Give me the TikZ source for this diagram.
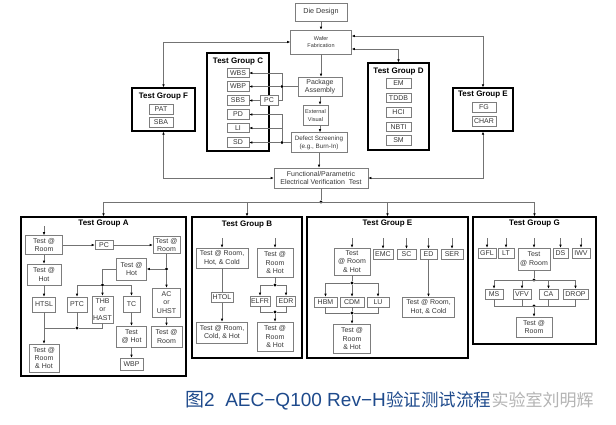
\documentclass[tikz,border=0pt]{standalone}
\usepackage{fontspec}
\setmainfont{Liberation Sans}
\newfontfamily\cjk{Noto Sans CJK SC}
\usetikzlibrary{arrows.meta}
\definecolor{boxgray}{RGB}{125,125,125}
\definecolor{linegray}{RGB}{115,115,115}
\definecolor{txtgray}{RGB}{55,55,55}
\definecolor{capblue}{RGB}{30,74,140}
\definecolor{wmgray}{RGB}{180,180,180}
\begin{document}
\begin{tikzpicture}[x=1pt,y=-1pt,
  bx/.style={draw=boxgray,line width=0.6pt,fill=white,inner sep=0pt,align=center,
     text=txtgray,font=\fontsize{7}{8.3}\selectfont},
  wh/.style 2 args={minimum width=#1pt,minimum height=#2pt},
  grp/.style={draw=black,line width=1.3pt,inner sep=0pt},
  ttl/.style={inner sep=0pt,font=\bfseries\fontsize{8}{9}\selectfont},
  ln/.style={draw=linegray,line width=0.6pt},
  arr/.style={ln,-{Latex[length=3pt,width=2.6pt,color=black]}},
  darr/.style={ln,{Latex[length=3pt,width=2.6pt,color=black]}-{Latex[length=3pt,width=2.6pt,color=black]}},
  jdot/.style={circle,fill=black,inner sep=0pt,minimum size=3.2pt}]
\fill[white] (0,0) rectangle (616,424);
\useasboundingbox (0,0) rectangle (616,424);

% ---------- top flow ----------
\node[bx,wh={52}{18},font=\fontsize{7.2}{8.5}\selectfont] (die) at (321,12) {Die Design};
\node[bx,wh={61}{24},font=\fontsize{5.5}{7.5}\selectfont] (wafer) at (321,42) {Wafer\\Fabrication};
\node[bx,wh={44}{19}] (pkg) at (320,86.5) {Package\\Assembly};
\node[bx,wh={25}{20},font=\fontsize{5.6}{8}\selectfont] (ext) at (315.5,115) {External\\Visual};
\node[bx,wh={56}{20},font=\fontsize{6.3}{8}\selectfont] (defect) at (319,142.5) {Defect Screening\\(e.g., Burn-In)};
\node[bx,wh={94}{20},font=\fontsize{7}{8.5}\selectfont] (func) at (321,178) {Functional/Parametric\\Electrical Verification\ \ Test};

% ---------- Test Group F ----------
\node[grp,wh={63}{43}] (grpF) at (163.5,109.5) {};
\node[ttl] (tF) at (163.5,97) {Test Group F};
\node[bx,wh={24}{9.5}] (PAT) at (161,109.5) {PAT};
\node[bx,wh={24}{10}] (SBA) at (161,122) {SBA};

% ---------- Test Group C ----------
\node[grp,wh={62}{98}] (grpC) at (238,102) {};
\node[ttl] (tC) at (238,62) {Test Group C};
\node[bx,wh={22}{9.5}] (WBS) at (238,73) {WBS};
\node[bx,wh={22}{9.5}] (WBP) at (238,86.5) {WBP};
\node[bx,wh={22}{9.5}] (SBS) at (238,100.5) {SBS};
\node[bx,wh={22}{9.5}] (PD) at (238,114.5) {PD};
\node[bx,wh={22}{9.5}] (LI) at (238,128) {LI};
\node[bx,wh={22}{9.5}] (SD) at (238,142.5) {SD};
\node[bx,wh={18}{9.5}] (PC) at (269,100.5) {PC};

% ---------- Test Group D ----------
\node[grp,wh={61}{87}] (grpD) at (398.5,106.5) {};
\node[ttl] (tD) at (398.5,72) {Test Group D};
\node[bx,wh={25}{9.5}] (EM) at (398.5,83.5) {EM};
\node[bx,wh={25}{9.5}] (TDDB) at (398.5,98) {TDDB};
\node[bx,wh={25}{9.5}] (HCI) at (398.5,112.5) {HCI};
\node[bx,wh={25}{9.5}] (NBTI) at (398.5,127) {NBTI};
\node[bx,wh={25}{9.5}] (SM) at (398.5,140.5) {SM};

% ---------- Test Group E (top) ----------
\node[grp,wh={60}{43}] (grpEt) at (483,109.5) {};
\node[ttl] (tEt) at (483,94.5) {Test Group E};
\node[bx,wh={24}{10}] (FG) at (484,107) {FG};
\node[bx,wh={24}{10}] (CHAR) at (484,121) {CHAR};

% ---------- top connectors ----------
\draw[arr] (die) -- (wafer);
\draw[darr] (grpF.north) |- (wafer.west);
\draw[darr] ([yshift=6pt]wafer.east) -| (grpEt.north);
\draw[darr] ([yshift=-7pt]wafer.east) -| (grpD.north);
\draw[arr] (wafer.south) -- (wafer.south |- pkg.north);
\draw[arr] (pkg.south) -- (pkg.south |- ext.north);
\draw[arr] (pkg.south |- ext.south) -- (pkg.south |- defect.north);
\draw[arr] (defect.south) -- (defect.south |- func.north);
\draw[darr] (grpF.south) |- (func.west);
\draw[darr] (grpEt.south) |- (func.east);

\node[jdot] (c1) at (282,86.5) {};
\draw[ln] (pkg.west) -- (c1);
\draw[arr] (c1) -- (WBP.east);
\draw[arr] (c1) |- (WBS.east);
\draw[ln] (c1) |- (PC.east);
\draw[arr] (PC.west) -- (SBS.east);
\node[jdot] (c2) at (282,142.5) {};
\draw[ln] (defect.west) -- (c2);
\draw[arr] (c2) -- (SD.east);
\draw[arr] (c2) |- (PD.east);
\draw[arr] (c2 |- LI.east) -- (LI.east);

% ---------- bottom groups ----------
\node[grp,wh={165}{159}] (grpA) at (103.5,296.5) {};
\node[grp,wh={110}{141}] (grpB) at (247,287.5) {};
\node[grp,wh={161}{141}] (grpEb) at (387.5,287.5) {};
\node[grp,wh={123}{127}] (grpG) at (534.5,280.5) {};
\node[ttl] (tA) at (103.5,224) {Test Group A};
\node[ttl] (tB) at (247,224.5) {Test Group B};
\node[ttl] (tEb) at (387.5,223.5) {Test Group E};
\node[ttl] (tG) at (534.5,224) {Test Group G};

\node[jdot] (m) at (321,202) {};
\draw[ln] (func.south) -- (m);
\draw[ln] (grpA.north |- m) -- (grpG.north |- m);
\draw[arr] (grpA.north |- m) -- (grpA.north);
\draw[arr] (grpB.north |- m) -- (grpB.north);
\draw[arr] (grpEb.north |- m) -- (grpEb.north);
\draw[arr] (grpG.north |- m) -- (grpG.north);

% ---------- Group A ----------
\node[bx,wh={37}{19}] (a1) at (44,245) {Test @\\Room};
\node[bx,wh={18}{8.5}] (aPC) at (104,245) {PC};
\node[bx,wh={27}{17}] (a2) at (166.5,245) {Test @\\Room};
\node[bx,wh={34}{21}] (a3) at (44,274.5) {Test @\\Hot};
\node[bx,wh={30}{22}] (a4) at (131.5,269) {Test @\\Hot};
\node[bx,wh={28}{29}] (ac) at (166.5,302.5) {AC\\or\\UHST};
\node[bx,wh={31}{21}] (a5) at (166.5,336.5) {Test @\\Room};
\node[bx,wh={23}{15}] (htsl) at (44,304.5) {HTSL};
\node[bx,wh={20}{15}] (ptc) at (77,304.5) {PTC};
\node[bx,wh={21}{27}] (thb) at (102.5,309.5) {THB\\or\\HAST};
\node[bx,wh={17}{16}] (tc) at (131.5,304) {TC};
\node[bx,wh={30}{21}] (a6) at (131.5,336.5) {Test\\@ Hot};
\node[bx,wh={23}{12}] (wbpA) at (131.5,364) {WBP};
\node[bx,wh={30}{28}] (a7) at (44,358) {Test @\\Room\\\& Hot};
\coordinate (a1in) at (44,226);
\draw[arr] (a1in) -- (a1.north);
\draw[arr] (a1.east) -- (aPC.west);
\draw[arr] (aPC.east) -- (a2.west);
\draw[arr] (a1) -- (a3);
\draw[arr] (a3) -- (htsl);
\node[jdot] (dA1) at (166.5,269) {};
\draw[ln] (a2) -- (dA1);
\draw[arr] (dA1) -- (a4.east);
\draw[arr] (dA1) -- (ac);
\draw[arr] (ac) -- (a5);
\node[jdot] (dA2) at (102.5,285) {};
\draw[ln] (a4.west) -| (dA2);
\draw[arr] (dA2) -| (ptc.north);
\draw[arr] (dA2) -- (thb.north);
\draw[arr] (dA2) -| (tc.north);
\draw[arr] (tc) -- (a6);
\draw[arr] (a6) -- (wbpA);
\node[jdot] (dA3) at (77,328) {};
\draw[ln] (ptc.south) -- (dA3);
\draw[ln] (thb.south) |- (dA3);
\draw[ln] (dA3) -- (htsl.south |- dA3);
\draw[arr] (htsl) -- (a7);

% ---------- Group B ----------
\node[bx,wh={52}{20}] (b1) at (222,258) {Test @ Room,\\Hot, \& Cold};
\node[bx,wh={36}{29}] (b2) at (275,262.5) {Test @\\Room\\\& Hot};
\node[bx,wh={22}{9.5}] (htol) at (222,297.5) {HTOL};
\node[bx,wh={51}{21}] (b3) at (222,332.5) {Test @ Room,\\Cold, \& Hot};
\node[bx,wh={20}{10}] (elfr) at (260,301) {ELFR};
\node[bx,wh={19}{10}] (edr) at (286,301) {EDR};
\node[bx,wh={36}{29}] (b4) at (275,336.5) {Test @\\Room\\\& Hot};
\coordinate (b1in) at (222,238);
\coordinate (b2in) at (275,238);
\draw[arr] (b1in) -- (b1.north);
\draw[arr] (b2in) -- (b2.north);
\draw[ln] (b1) -- (htol);
\draw[arr] (htol) -- (b3);
\node[jdot] (dB1) at (275,285) {};
\node[jdot] (dB2) at (275,312) {};
\draw[ln] (b2) -- (dB1);
\draw[arr] (dB1) -| (elfr.north);
\draw[arr] (dB1) -| (edr.north);
\draw[ln] (elfr.south) |- (dB2);
\draw[ln] (edr.south) |- (dB2);
\draw[arr] (dB2) -- (b4);

% ---------- Group E (bottom) ----------
\node[bx,wh={36}{27}] (e1) at (352,261.5) {Test\\@ Room\\\& Hot};
\node[bx,wh={20}{10}] (emc) at (383,254) {EMC};
\node[bx,wh={19}{10}] (sc) at (406.5,254) {SC};
\node[bx,wh={17}{10}] (ed) at (428.5,254) {ED};
\node[bx,wh={22}{10}] (ser) at (452,254) {SER};
\node[bx,wh={23}{10}] (hbm) at (325.5,302) {HBM};
\node[bx,wh={24}{10}] (cdm) at (352,302) {CDM};
\node[bx,wh={22}{10}] (lu) at (378,302) {LU};
\node[bx,wh={37}{29}] (e2) at (352,338.5) {Test @\\Room\\\& Hot};
\node[bx,wh={52}{20}] (e3) at (428.5,307) {Test @ Room,\\Hot, \& Cold};
\coordinate (e1in) at (352,238);
\coordinate (emcin) at (383,238);
\coordinate (scin) at (406.5,238);
\coordinate (edin) at (428.5,238);
\coordinate (serin) at (452,238);
\draw[arr] (e1in) -- (e1.north);
\draw[arr] (emcin) -- (emc.north);
\draw[arr] (scin) -- (sc.north);
\draw[arr] (edin) -- (ed.north);
\draw[arr] (serin) -- (ser.north);
\node[jdot] (dE1) at (352,283) {};
\node[jdot] (dE2) at (352,313) {};
\draw[ln] (e1) -- (dE1);
\draw[arr] (dE1) -| (hbm.north);
\draw[arr] (dE1) -- (cdm.north);
\draw[arr] (dE1) -| (lu.north);
\draw[ln] (hbm.south) |- (dE2);
\draw[ln] (lu.south) |- (dE2);
\draw[ln] (cdm.south) -- (dE2);
\draw[arr] (dE2) -- (e2);
\draw[arr] (ed) -- (e3);

% ---------- Group G ----------
\node[bx,wh={18}{10}] (gfl) at (487,253) {GFL};
\node[bx,wh={16}{10}] (lt) at (506,253) {LT};
\node[bx,wh={32}{22}] (g1) at (534,259) {Test\\@ Room};
\node[bx,wh={15}{10}] (ds) at (560.5,253) {DS};
\node[bx,wh={18}{10}] (iwv) at (581,253) {IWV};
\node[bx,wh={18}{10}] (ms) at (494,294) {MS};
\node[bx,wh={18}{10}] (vfv) at (522,294) {VFV};
\node[bx,wh={19}{10}] (ca) at (548.5,294) {CA};
\node[bx,wh={25}{10}] (drop) at (575.5,294) {DROP};
\node[bx,wh={36}{20}] (g2) at (534,327) {Test @\\Room};
\coordinate (gflin) at (487,238);
\coordinate (ltin) at (506,238);
\coordinate (g1in) at (534,238);
\coordinate (dsin) at (560.5,238);
\coordinate (iwvin) at (581,238);
\draw[arr] (gflin) -- (gfl.north);
\draw[arr] (ltin) -- (lt.north);
\draw[arr] (g1in) -- (g1.north);
\draw[arr] (dsin) -- (ds.north);
\draw[arr] (iwvin) -- (iwv.north);
\node[jdot] (dG1) at (534,280) {};
\node[jdot] (dG2) at (534,306) {};
\draw[ln] (g1) -- (dG1);
\draw[ln] (ms.north |- dG1) -- (drop.north |- dG1);
\draw[arr] (ms.north |- dG1) -- (ms.north);
\draw[arr] (vfv.north |- dG1) -- (vfv.north);
\draw[arr] (ca.north |- dG1) -- (ca.north);
\draw[arr] (drop.north |- dG1) -- (drop.north);
\draw[ln] (ms.south) |- (drop.south |- dG2) -- (drop.south);
\draw[ln] (vfv.south) -- (vfv.south |- dG2);
\draw[ln] (ca.south) -- (ca.south |- dG2);
\draw[arr] (dG2) -- (g2);

% ---------- caption ----------
\node[anchor=base west,inner sep=0pt,text=capblue,font=\fontsize{19}{21}\selectfont] (cap1) at (185,406) {{\cjk 图}2\ \ AEC−Q100 Rev−H};
\node[anchor=base west,inner sep=0pt,text=capblue,font=\fontsize{17.5}{20}\selectfont] (cap2) at (cap1.base east) {\cjk 验证测试流程};
\node[anchor=base west,inner sep=0pt,text=wmgray,font=\fontsize{17}{20}\selectfont] (wm) at (cap2.base east) {\cjk 实验室刘明辉};
\end{tikzpicture}
\end{document}
